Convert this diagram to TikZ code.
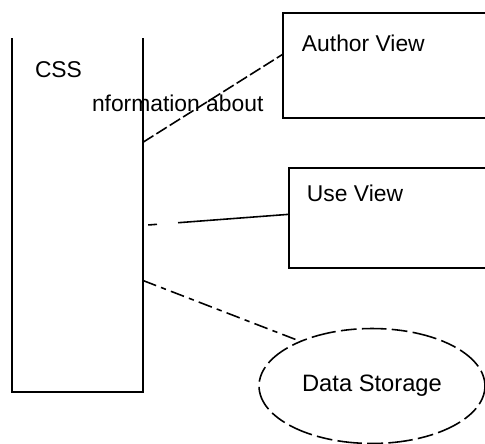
\documentclass[tikz,border=0pt]{standalone}
\usepackage{fontspec}
\setmainfont{Liberation Sans}
\usetikzlibrary{shapes.geometric}

\begin{document}
\begin{tikzpicture}[x=0.02cm,y=-0.02cm]
    \tikzstyle{wht}=[draw=none, fill=none, text=black, inner sep=0pt, outer sep=0pt, font=\fontsize{13}{15}\selectfont]
    \tikzstyle{box}=[draw=black, line width=1pt, rectangle, inner sep=0pt, outer sep=0pt]
    \tikzstyle{store}=[draw=black, line width=0.9pt, ellipse, inner sep=0pt, outer sep=0pt, dash pattern=on 9pt off 3pt on 14pt off 3pt, font=\fontsize{13.5}{15}\selectfont]
    \tikzstyle{link}=[line width=0.9pt]
    \useasboundingbox (0,0) rectangle (485,444);

    \node[box,draw=none,minimum width=2.62cm,minimum height=7.08cm] (CSS) at (77.5,215) {};
    \node[box,minimum width=4.34cm,minimum height=2.1cm] (AV) at (391.5,65.5) {};
    \node[box,minimum width=4.22cm,minimum height=2cm] (UV) at (394.5,218) {};
    \node[store,minimum width=4.52cm,minimum height=2.3cm] (DS) at (372,386) {Data Storage};

    \node[wht,anchor=west] (CSSt) at (35,70) {CSS};
    \node[wht,anchor=west] (IA) at (92,103) {nformation about};
    \node[wht,anchor=west] (AVt) at (302,43) {Author View};
    \node[wht,anchor=west] (UVt) at (307,193) {Use View};

    % open-topped CSS column
    \draw[line width=1pt] (CSS.north west) -- (CSS.south west) -- (CSS.south east) -- (CSS.north east);

    \draw[link,dash pattern=on 7pt off 2pt] (CSS.48.9) -- (AV.174.5);
    \draw[link,dash pattern=on 5pt off 12pt on 200pt off 3pt,dash phase=217pt] (CSS.-9.5) -- (UV.178.4);
    \draw[link,dash pattern=on 8pt off 3pt on 3pt off 3pt] (CSS.-45.6) -- (DS.148.6);
\end{tikzpicture}
\end{document}
